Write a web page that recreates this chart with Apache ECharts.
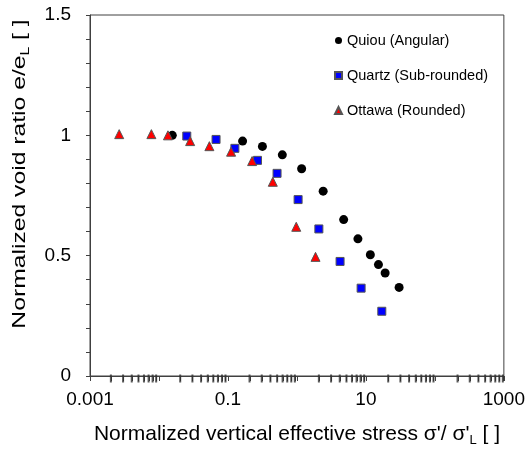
<!DOCTYPE html>
<html>
<head>
<meta charset="utf-8">
<script src="https://cdn.jsdelivr.net/npm/echarts@6/dist/echarts.min.js"></script>
<style>
  html, body { margin: 0; padding: 0; background: #fff; }
  #chart { width: 528px; height: 455px; }
</style>
</head>
<body>
<div id="chart"></div>
<script>
// Quiou (Angular)
const quiouStress = [0.0156, 0.163, 0.316, 0.614, 1.17, 2.40, 4.76, 7.66, 11.6, 15.2, 19.0, 30.3];
const quiouVoid = [1.0, 0.976, 0.954, 0.919, 0.861, 0.768, 0.65, 0.57, 0.504, 0.463, 0.428, 0.368];

// Quartz (Sub-rounded)
const quartzStress = [0.0253, 0.0672, 0.126, 0.268, 0.515, 1.04, 2.08, 4.22, 8.52, 17.0];
const quartzVoid = [0.997, 0.983, 0.946, 0.896, 0.842, 0.733, 0.611, 0.476, 0.365, 0.269];

// Ottawa (Rounded)
const ottawaStress = [0.00265, 0.00776, 0.0135, 0.0283, 0.0538, 0.111, 0.224, 0.447, 0.977, 1.86];
const ottawaVoid = [1.005, 1.005, 1.0, 0.976, 0.955, 0.932, 0.893, 0.807, 0.62, 0.495];

const seriesNames = ['Quiou (Angular)', 'Quartz (Sub-rounded)', 'Ottawa (Rounded)'];
const xLabelValues = [0.001, 0.1, 10, 1000];
const yLabelValues = [0, 0.5, 1, 1.5];

// minor log ticks 2..9 in each decade 0.001 .. 1000
const minorTicks = [];
for (let e = -3; e < 3; e++) {
    for (let m = 2; m <= 9; m++) minorTicks.push([m * Math.pow(10, e), 0.5]);
}

const zip = (xs, ys) => xs.map((x, i) => [x, ys[i]]);
const axisColor = '#404040';
const fontFamily = '"Liberation Sans", Arial, sans-serif';

const chart = echarts.init(document.getElementById('chart'));
chart.setOption({
    animation: false,
    textStyle: { fontFamily: fontFamily, color: '#000' },
    grid: [
        { left: 90, right: 22, top: 15, bottom: 79, show: true, borderColor: axisColor, borderWidth: 1 },
        // thin strip under the plot that carries the minor log ticks
        { left: 90, right: 22, top: 376, height: 5 }
    ],
    legend: {
        data: seriesNames,
        orient: 'vertical',
        left: 329,
        top: 28,
        itemGap: 20,
        itemWidth: 7,
        itemHeight: 7,
        textStyle: { fontSize: 14.5, color: '#000', fontFamily: fontFamily }
    },
    graphic: [{
        type: 'text',
        x: 20,
        y: 174,
        rotation: Math.PI / 2,
        scaleX: 1.3,
        style: {
            text: 'Normalized void ratio e/e{sub|L} [ ]',
            fontSize: 19,
            fontFamily: fontFamily,
            fill: '#000',
            align: 'center',
            verticalAlign: 'middle',
            rich: { sub: { fontSize: 12, padding: [11, 0, 0, 0], fill: '#000', fontFamily: fontFamily } }
        }
    }],
    xAxis: [{
        type: 'log',
        logBase: 10,
        min: 0.001,
        max: 1000,
        name: "Normalized vertical effective stress σ'/ σ'{sub|L} [ ]",
        nameLocation: 'middle',
        nameGap: 46,
        nameTextStyle: {
            fontSize: 21, color: '#000',
            rich: { sub: { fontSize: 13, padding: [12, 0, 0, 0], color: '#000' } }
        },
        axisLine: { lineStyle: { color: axisColor } },
        axisTick: { show: true, inside: false, length: 5, lineStyle: { color: axisColor } },
        splitLine: { show: false },
        axisLabel: {
            fontSize: 19, color: '#000', margin: 14,
            formatter: (v) => {
                const hit = xLabelValues.find(t => Math.abs(Math.log10(t) - Math.log10(v)) < 1e-6);
                return hit === undefined ? '' : String(hit);
            }
        }
    }, {
        type: 'log',
        logBase: 10,
        gridIndex: 1,
        min: 0.001,
        max: 1000,
        show: false
    }],
    yAxis: [{
        type: 'value',
        min: 0,
        max: 1.5,
        interval: 0.1,
        axisLine: { show: true, lineStyle: { color: axisColor } },
        axisTick: { show: true, inside: false, length: 4, lineStyle: { color: axisColor } },
        splitLine: { show: false },
        axisLabel: {
            fontSize: 19, color: '#000', margin: 19,
            formatter: (v) => {
                const hit = yLabelValues.find(t => Math.abs(t - v) < 1e-6);
                return hit === undefined ? '' : String(hit);
            }
        }
    }, {
        type: 'value',
        gridIndex: 1,
        min: 0,
        max: 1,
        show: false
    }],
    series: [
        {
            name: seriesNames[0],
            type: 'scatter',
            symbol: 'circle',
            symbolSize: 9,
            data: zip(quiouStress, quiouVoid),
            itemStyle: { color: '#000', opacity: 1 }
        },
        {
            name: seriesNames[1],
            type: 'scatter',
            symbol: 'rect',
            symbolSize: 8,
            data: zip(quartzStress, quartzVoid),
            itemStyle: { color: '#0000ff', borderColor: '#555', borderWidth: 1, opacity: 1 }
        },
        {
            name: seriesNames[2],
            type: 'scatter',
            symbol: 'triangle',
            symbolSize: 9,
            data: zip(ottawaStress, ottawaVoid),
            itemStyle: { color: '#ff0000', borderColor: '#555', borderWidth: 1, opacity: 1 }
        },
        {
            name: 'minor ticks',
            type: 'scatter',
            xAxisIndex: 1,
            yAxisIndex: 1,
            symbol: 'rect',
            symbolSize: [2, 8],
            data: minorTicks,
            itemStyle: { color: '#303030' }
        },
        {
            name: 'minor tick lines',
            type: 'custom',
            xAxisIndex: 1,
            yAxisIndex: 1,
            data: minorTicks,
            renderItem: (params, api) => {
                const p = api.coord([api.value(0), api.value(1)]);
                const x = Math.round(p[0]) + 0.5;
                return {
                    type: 'line',
                    shape: { x1: x, y1: p[1] - 2.5, x2: x, y2: p[1] + 2.5 },
                    style: { stroke: axisColor, lineWidth: 1 }
                };
            }
        }
    ]
});
</script>
</body>
</html>
